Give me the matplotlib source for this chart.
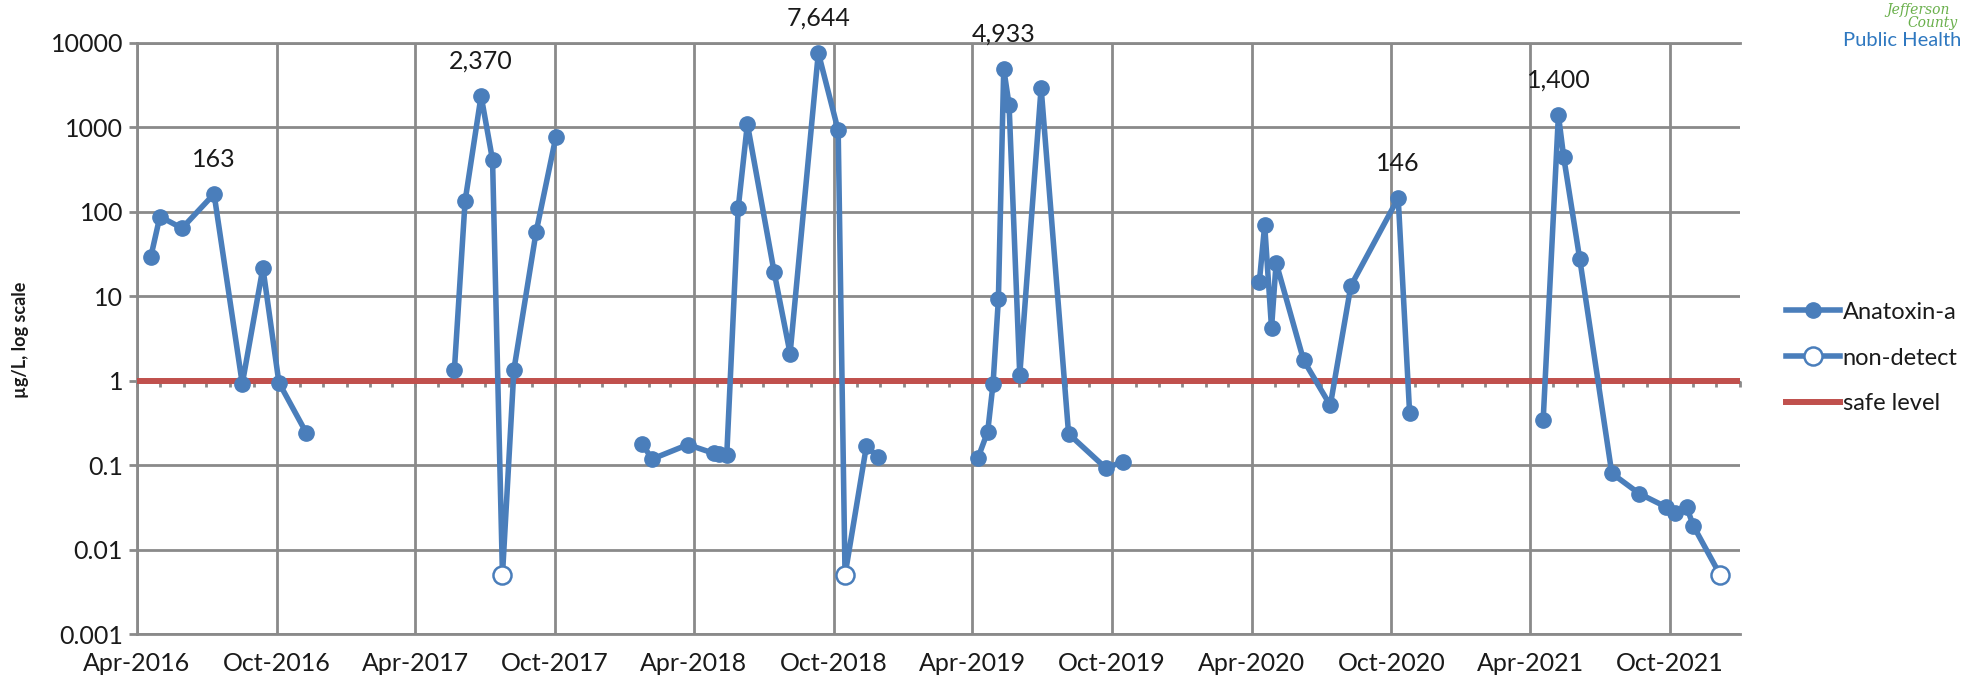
'''Anatoxin-a concentrations by sampling season, log scale'''
import pandas as pd
import matplotlib
matplotlib.use('Agg')
import matplotlib.pyplot as plt
import matplotlib.dates as mdates
from matplotlib.lines import Line2D
from matplotlib.ticker import NullLocator, NullFormatter

plt.rcParams['font.family'] = ['Lato', 'DejaVu Sans']

# sampling dates and results (ug/L), one list per season
dates_2016 = ['2016-04-19', '2016-05-01', '2016-05-30', '2016-07-11',
              '2016-08-17', '2016-09-13', '2016-10-04', '2016-11-09']
vals_2016 = [29, 88, 64, 163, 0.92, 21.7, 0.95, 0.24]

dates_2017 = ['2017-05-22', '2017-06-05', '2017-06-26', '2017-07-11',
              '2017-07-24', '2017-08-08', '2017-09-06', '2017-10-02']
vals_2017 = [1.35, 134, 2370, 411, 0.005, 1.35, 57, 773]

dates_2018 = ['2018-01-23', '2018-02-05', '2018-03-24', '2018-04-27',
              '2018-05-04', '2018-05-14', '2018-05-29', '2018-06-10',
              '2018-07-15', '2018-08-05', '2018-09-11', '2018-10-07',
              '2018-10-16', '2018-11-13', '2018-11-28']
vals_2018 = [0.18, 0.118, 0.175, 0.138, 0.136, 0.133, 111, 1100,
             19.5, 2.1, 7644, 923, 0.005, 0.168, 0.126]

dates_2019 = ['2019-04-08', '2019-04-21', '2019-04-28', '2019-05-05',
              '2019-05-12', '2019-05-19', '2019-06-02', '2019-06-30',
              '2019-08-05', '2019-09-23', '2019-10-15']
vals_2019 = [0.12, 0.25, 0.92, 9.3, 4933, 1860, 1.17, 2950,
             0.235, 0.092, 0.11]

dates_2020 = ['2020-04-11', '2020-04-18', '2020-04-27', '2020-05-03',
              '2020-06-08', '2020-07-13', '2020-08-09', '2020-10-10',
              '2020-10-25']
vals_2020 = [14.7, 69.5, 4.2, 25, 1.75, 0.51, 13.3, 146, 0.41]

dates_2021 = ['2021-04-18', '2021-05-08', '2021-05-15', '2021-06-05',
              '2021-07-17', '2021-08-22', '2021-09-26', '2021-10-08',
              '2021-10-23', '2021-11-01', '2021-12-06']
vals_2021 = [0.34, 1400, 441, 27.5, 0.08, 0.046, 0.032, 0.027,
             0.032, 0.019, 0.005]

# non-detect results plotted at 0.005
nd_dates = ['2017-07-24', '2018-10-16', '2021-12-06']
nd_vals = [0.005, 0.005, 0.005]

safe_level = 1
y_ticks = [0.001, 0.01, 0.1, 1, 10, 100, 1000, 10000]
y_labels = ['0.001', '0.01', '0.1', '1', '10', '100', '1000', '10000']

BLUE = '#4a7ebb'
RED = '#c0504d'
GRID = '#8a8a8a'
TXT = '#1a1a1a'
FS = 18
W, H = 1963, 683

fig = plt.figure(figsize=(W / 100, H / 100), dpi=100)
ax = fig.add_axes([137 / W, 1 - 634 / H, (1740 - 137) / W, (634 - 43) / H])

ax.axhline(safe_level, color=RED, lw=4.3, zorder=3)

seasons = [(dates_2016, vals_2016), (dates_2017, vals_2017), (dates_2018, vals_2018),
           (dates_2019, vals_2019), (dates_2020, vals_2020), (dates_2021, vals_2021)]
for d, v in seasons:
    d = pd.to_datetime(d)
    ax.plot(d, v, '-o', color=BLUE, lw=4, ms=11, zorder=4,
            solid_joinstyle='round', solid_capstyle='round')
    # label the peak of each season
    i = max(range(len(v)), key=lambda k: v[k])
    ax.annotate(f'{v[i]:,.0f}', xy=(d[i], v[i]), xytext=(0, 25),
                textcoords='offset points', ha='center', va='center',
                fontsize=FS, color=TXT)

ax.plot(pd.to_datetime(nd_dates), nd_vals, 'o', mfc='white', mec=BLUE,
        ms=13, mew=1.8, zorder=5)

ax.set_yscale('log')
ax.set_ylim(0.001, 10000)
ax.set_xlim(pd.Timestamp('2016-04-01'), pd.Timestamp('2022-01-01'))
ax.set_yticks(y_ticks)
ax.set_yticklabels(y_labels)
ax.yaxis.set_minor_locator(NullLocator())
ax.xaxis.set_major_locator(mdates.MonthLocator(bymonth=[4, 10]))
ax.xaxis.set_major_formatter(mdates.DateFormatter('%b-%Y'))

ax.grid(True, which='major', color=GRID, lw=2)
ax.set_axisbelow(True)
ax.tick_params(axis='x', length=0, pad=13, labelsize=FS, labelcolor=TXT)
ax.tick_params(axis='y', length=6, width=2, color=GRID, pad=4, labelsize=FS,
               labelcolor=TXT)
for s in ['left', 'bottom', 'top']:
    ax.spines[s].set_color(GRID)
    ax.spines[s].set_linewidth(2)
ax.spines['right'].set_visible(False)

# category axis crosses at y=1, hidden under the safe level line
sec = ax.secondary_xaxis(3 / 7)
sec.xaxis.set_major_locator(mdates.MonthLocator())
sec.xaxis.set_major_formatter(NullFormatter())
sec.tick_params(length=4, width=2, color=GRID, direction='out')
sec.spines['top'].set_color(GRID)
sec.spines['bottom'].set_color(GRID)

fig.text(21 / W, 0.502, 'µg/L, log scale', rotation=90, fontweight='bold',
         fontsize=13, ha='center', va='center', color=TXT)

handles = [Line2D([], [], color=BLUE, lw=4, marker='o', ms=11),
           Line2D([], [], color=BLUE, lw=4, marker='o', ms=13, mfc='white',
                  mec=BLUE, mew=1.8),
           Line2D([], [], color=RED, lw=4.3)]
leg = fig.legend(handles, ['Anatoxin-a', 'non-detect', 'safe level'],
                 loc='center left', bbox_to_anchor=(1786 / W, 1 - 358 / H),
                 frameon=False, fontsize=17, handlelength=2.3, handletextpad=0.1,
                 labelspacing=1.05, borderpad=0, borderaxespad=0)
for t in leg.get_texts():
    t.set_color(TXT)

# logo text
fig.text(1961 / W, 1 - 40 / H, 'Public Health', color='#2f78c0', fontsize=14.5,
         ha='right', va='center')
fig.text(1950 / W, 1 - 10 / H, 'Jefferson', color='#6ab04c', fontsize=10,
         style='italic', family='DejaVu Serif', ha='right', va='center')
fig.text(1958 / W, 1 - 23 / H, 'County', color='#6ab04c', fontsize=10,
         style='italic', family='DejaVu Serif', ha='right', va='center')

fig.savefig('out.png', dpi=100)
